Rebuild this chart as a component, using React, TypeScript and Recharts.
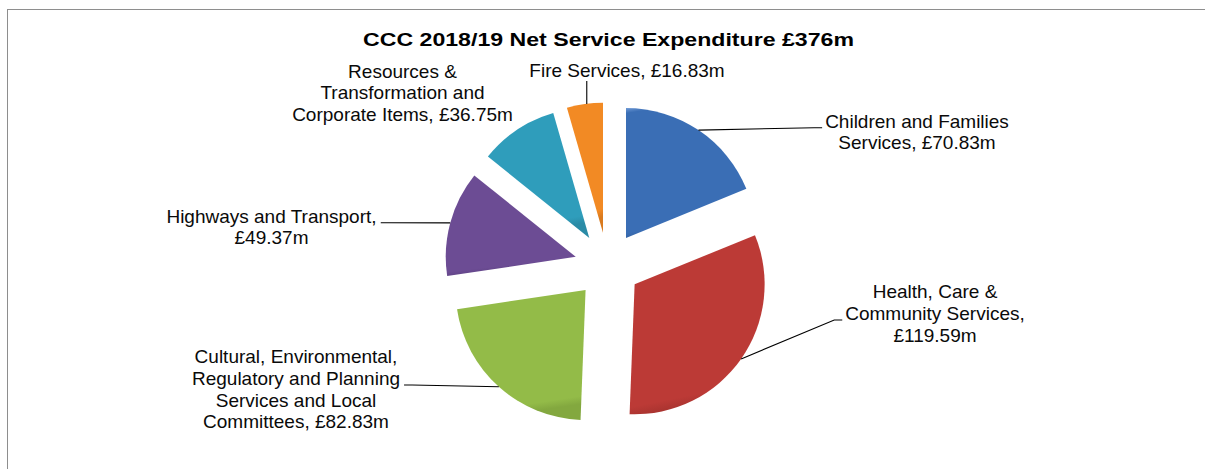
import React from 'react';
import { PieChart, Pie, Cell, Sector } from 'recharts';

// ---------- data ----------
const categories = [
  'Children and Families Services',
  'Health, Care & Community Services',
  'Cultural, Environmental, Regulatory and Planning Services and Local Committees',
  'Highways and Transport',
  'Resources & Transformation and Corporate Items',
  'Fire Services',
];
const values = [70.83, 119.59, 82.83, 49.37, 36.75, 16.83];
const chartTitle = 'CCC 2018/19 Net Service Expenditure £376m';

// ---------- styles ----------
const baseColors = ['#3A6EB5', '#BC3A36', '#93BB48', '#6C4C94', '#2F9DBB', '#F28A24'];
const lightColors = ['#6F9AD6', '#DC6E6A', '#B7D67A', '#9379BA', '#62C2DC', '#F9B36E'];
const darkColors = ['#325F9E', '#A8332F', '#83A83F', '#5E4283', '#2A8BA6', '#D97A1E'];

const FONT = '"Liberation Sans", Arial, sans-serif';
const FS = 19;
const LH = 21.7;
const WRAP = 11.78 * FS;
const EXPLODE = 33;
const RAD = Math.PI / 180;

// label layout: centre x, first baseline y, leader side, line index where leader attaches
const labelLayout = [
  { x: 917, y: 127.7, side: 'left', leaderLine: 0 },
  { x: 935, y: 298.3, side: 'left', leaderLine: 1 },
  { x: 296, y: 363.3, side: 'right', leaderLine: 1 },
  { x: 271.5, y: 222.7, side: 'right', leaderLine: 0 },
  { x: 402.5, y: 77.7, side: 'none', leaderLine: 0 },
  { x: 627, y: 77, side: 'bottom', leaderLine: 0 },
];

const data = categories.map((name, i) => ({ name, value: values[i] }));

let ctx: CanvasRenderingContext2D | null = null;
function measure(s: string): number {
  if (!ctx) {
    const c = document.createElement('canvas');
    ctx = c.getContext('2d');
  }
  if (!ctx) return s.length * FS * 0.5;
  ctx.font = `${FS}px ${FONT}`;
  return ctx.measureText(s).width;
}

function wrap(text: string): string[] {
  const words = text.split(' ');
  const lines: string[] = [];
  let cur = '';
  for (const w of words) {
    const t = cur ? cur + ' ' + w : w;
    if (measure(t) <= WRAP || !cur) cur = t;
    else {
      lines.push(cur);
      cur = w;
    }
  }
  if (cur) lines.push(cur);
  return lines;
}

const ExplodedSector = (props: any) => {
  const { cx, cy, midAngle } = props;
  const dx = EXPLODE * Math.cos(-midAngle * RAD);
  const dy = EXPLODE * Math.sin(-midAngle * RAD);
  return <Sector {...props} cx={cx + dx} cy={cy + dy} stroke="none" />;
};

const renderLabel = (props: any) => {
  const { cx, cy, midAngle, outerRadius, index } = props;
  const i = index as number;
  const lay = labelLayout[i];
  const text = `${categories[i]}, £${values[i].toFixed(2)}m`;
  const lines = wrap(text);
  const maxW = Math.max(...lines.map(measure));
  const cosA = Math.cos(-midAngle * RAD);
  const sinA = Math.sin(-midAngle * RAD);
  const ax = cx + (outerRadius + EXPLODE) * cosA;
  const ay = cy + (outerRadius + EXPLODE) * sinA;
  const ly = lay.y + lay.leaderLine * LH;
  let leader: React.ReactNode = null;
  if (lay.side === 'left') {
    const ex = lay.x - maxW / 2 - 3;
    leader = <polyline points={`${ax},${ay} ${ex - 8},${ly} ${ex},${ly}`} fill="none" stroke="#000" strokeWidth={1.1} />;
  } else if (lay.side === 'right') {
    const ex = lay.x + maxW / 2 + 4;
    leader = <polyline points={`${ax},${ay} ${ex + 8},${ly} ${ex},${ly}`} fill="none" stroke="#000" strokeWidth={1.1} />;
  } else if (lay.side === 'bottom') {
    const ey = lay.y + (lines.length - 1) * LH + 4;
    leader = <polyline points={`${ax + 2},${ay} ${ax + 2},${ey}`} fill="none" stroke="#000" strokeWidth={1.1} />;
  }
  return (
    <g>
      {leader}
      <text fontFamily={FONT} fontSize={FS} fill="#0a0a0a" textAnchor="middle">
        {lines.map((l, k) => (
          <tspan key={k} x={lay.x} y={lay.y + k * LH}>
            {l}
          </tspan>
        ))}
      </text>
    </g>
  );
};

export default function App() {
  return (
    <div
      style={{
        position: 'fixed',
        left: 0,
        top: 0,
        width: 1205,
        height: 469,
        overflow: 'hidden',
        background: '#fff',
      }}
    >
      <div
        style={{
          position: 'absolute',
          left: 7,
          top: 9,
          width: 1400,
          height: 700,
          border: '1.5px solid #8E8E8E',
        }}
      />
      <div style={{ position: 'absolute', left: 0, top: 0 }}>
        <PieChart width={1205} height={469} margin={{ top: 0, right: 0, bottom: 0, left: 0 }}>
          <defs>
            {baseColors.map((c, i) => (
              <linearGradient key={i} id={`g${i}`} x1="0" y1="0" x2="0.15" y2="1">
                <stop offset="0%" stopColor={lightColors[i]} />
                <stop offset="4%" stopColor={c} />
                <stop offset="94%" stopColor={c} />
                <stop offset="100%" stopColor={darkColors[i]} />
              </linearGradient>
            ))}
          </defs>
          <text
            x={608.5}
            y={46}
            textAnchor="middle"
            fontFamily={FONT}
            fontWeight="bold"
            fontSize={19}
            fill="#000"
            textLength={491}
            lengthAdjust="spacingAndGlyphs"
          >
            {chartTitle}
          </text>
          <Pie
            data={data}
            dataKey="value"
            nameKey="name"
            cx={607.6}
            cy={265.4}
            outerRadius={130}
            startAngle={90}
            endAngle={-270}
            isAnimationActive={false}
            shape={ExplodedSector}
            label={renderLabel}
            labelLine={false}
            stroke="none"
          >
            {data.map((_, i) => (
              <Cell key={i} fill={`url(#g${i})`} />
            ))}
          </Pie>
        </PieChart>
      </div>
    </div>
  );
}
